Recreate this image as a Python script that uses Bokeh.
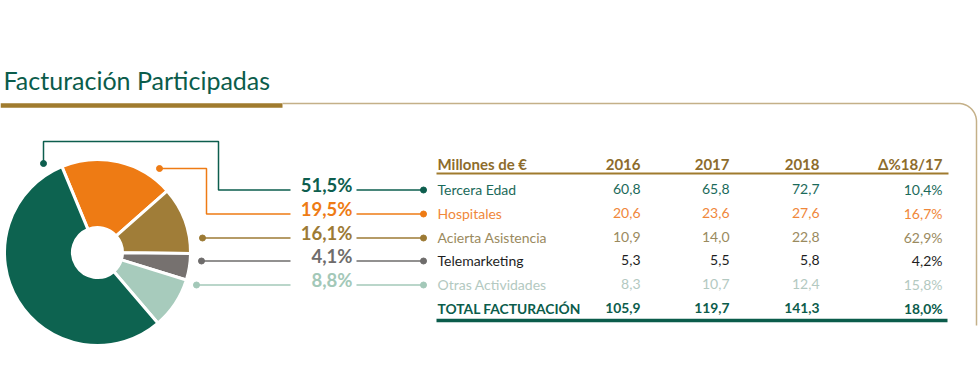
from bokeh.plotting import figure
from bokeh.models import ColumnDataSource, Range1d
from bokeh.embed import file_html
from bokeh.resources import INLINE
from bokeh.core.properties import value
import numpy as np

# ---------------- data ----------------
title = "Facturación Participadas"
header = ["Millones de €", "2016", "2017", "2018", "Δ%18/17"]
segments = ["Tercera Edad", "Hospitales", "Acierta Asistencia", "Telemarketing", "Otras Actividades"]
v2016 = [60.8, 20.6, 10.9, 5.3, 8.3]
v2017 = [65.8, 23.6, 14.0, 5.5, 10.7]
v2018 = [72.7, 27.6, 22.8, 5.8, 12.4]
delta = [10.4, 16.7, 62.9, 4.2, 15.8]
total_label = "TOTAL FACTURACIÓN"
totals = [105.9, 119.7, 141.3]
total_delta = 18.0
shares = [51.5, 19.5, 16.1, 4.1, 8.8]

# ---------------- styles ----------------
FONT = "Lato"
pie_colors = ["#0d6350", "#ee7b14", "#a07d38", "#76716f", "#a7cbbc"]
label_colors = ["#0d5e4e", "#ee7b14", "#9c7a34", "#6e6c6b", "#a3c8b8"]
row_colors = ["#1b6a5a", "#f0873a", "#9a8a5e", "#1e1e1e", "#b3c9c1"]
GREEN = "#0b5c4b"
GOLD = "#a07b2e"
GOLD_LIGHT = "#c4b088"
HEAD = "#8d6c2c"

W, H = 980, 388
p = figure(width=W, height=H, x_range=Range1d(0, W), y_range=Range1d(0, H),
           output_backend="svg", toolbar_location=None, min_border=0)
p.axis.visible = False
p.grid.visible = False
p.outline_line_color = None
p.background_fill_color = "white"
p.border_fill_color = "white"


def Y(ref):
    return H - ref


def TY(ref, size):
    # baseline correction for svg text rendering
    return Y(ref - 0.3 * size)


def fmt(v):
    return f"{v:.1f}".replace(".", ",")


# ---------------- title & frame ----------------
p.text(x=[3], y=[TY(87, 25)], text=[title], text_font=value(FONT), text_font_size="25px",
       text_color=GREEN, text_baseline="alphabetic", text_align="left")
p.line([0, 282], [Y(105), Y(105)], line_color=GOLD, line_width=4.5)
r = 18
th = np.linspace(np.pi / 2, 0, 20)
bx = [282] + list(976 - r + r * np.cos(th)) + [976]
by = [Y(103)] + list(Y(103 + r) + r * np.sin(th)) + [Y(325)]
p.line(bx, by, line_color=GOLD_LIGHT, line_width=1.5)

# ---------------- pie (drawn from 2017 values, as in the original) ----------------
cx, cy = 97, Y(252)
order = [1, 2, 3, 4, 0]
tot17 = sum(v2017)
a = np.deg2rad(112.5)
starts, ends, cols = [], [], []
for i in order:
    span = v2017[i] / tot17 * 2 * np.pi
    ends.append(a)
    starts.append(a - span)
    cols.append(pie_colors[i])
    a -= span
p.annular_wedge(x=cx, y=cy, inner_radius=25, outer_radius=93,
                start_angle=starts, end_angle=ends, fill_color=cols,
                line_color="white", line_width=3)

# ---------------- connectors & share labels ----------------
row_base = [193, 217, 241, 264, 288]
conn_y = [b - 3.5 for b in row_base]
lab_x_right = 352
lines_left = [
    ([43, 43, 218, 218, 290], [163, 141, 141, conn_y[0], conn_y[0]]),
    ([159, 206, 206, 290], [168, 168, conn_y[1], conn_y[1]]),
    ([202, 290], [conn_y[2], conn_y[2]]),
    ([201, 290], [conn_y[3], conn_y[3]]),
    ([196, 290], [conn_y[4], conn_y[4]]),
]
for k, (xs, ys) in enumerate(lines_left):
    p.line(xs, [Y(v) for v in ys], line_color=label_colors[k], line_width=1.5)
    p.scatter([xs[0]], [Y(ys[0])], size=6, color=label_colors[k])
    p.line([356, 423], [Y(conn_y[k]), Y(conn_y[k])], line_color=label_colors[k], line_width=1.5)
    p.scatter([423], [Y(conn_y[k])], size=6, color=label_colors[k])

PS = 18.5
p.text(x=[lab_x_right] * 5, y=[TY(c + 0.5, PS) for c in conn_y],
       text=[fmt(s) + "%" for s in shares], text_color=label_colors,
       text_font=value(FONT), text_font_size=f"{PS}px", text_font_style="bold",
       text_align="right", text_baseline="alphabetic")

# ---------------- table ----------------
col_x = [437, 640, 729, 819, 942]
head_y = 168
HS = 15
p.text(x=[col_x[0]], y=[TY(head_y, HS)], text=[header[0]], text_color=HEAD,
       text_font=value(FONT), text_font_size=f"{HS}px", text_font_style="bold",
       text_align="left", text_baseline="alphabetic")
p.text(x=col_x[1:], y=[TY(head_y, HS)] * 4, text=header[1:], text_color=HEAD,
       text_font=value(FONT), text_font_size=f"{HS}px", text_font_style="bold",
       text_align="right", text_baseline="alphabetic")
p.line([436, 948], [Y(173), Y(173)], line_color=GOLD, line_width=2)

RS = 14
rows = ColumnDataSource(dict(
    y=[TY(b, RS) for b in row_base], name=segments, c=row_colors,
    a=[fmt(v) for v in v2016], b=[fmt(v) for v in v2017], d=[fmt(v) for v in v2018],
    e=[fmt(v) + "%" for v in delta]))
p.text(x=col_x[0], y="y", text="name", text_color="c", source=rows,
       text_font=value(FONT), text_font_size=f"{RS}px", text_align="left", text_baseline="alphabetic")
for cx_, key in zip(col_x[1:], ["a", "b", "d", "e"]):
    p.text(x=cx_, y="y", text=key, text_color="c", source=rows,
           text_font=value(FONT), text_font_size=f"{RS}px", text_align="right", text_baseline="alphabetic")

tot_y = 312
TS = 13.8
p.text(x=[col_x[0]], y=[TY(tot_y, TS)], text=[total_label], text_color=GREEN,
       text_font=value(FONT), text_font_size=f"{TS}px", text_font_style="bold",
       text_align="left", text_baseline="alphabetic")
p.text(x=col_x[1:], y=[TY(tot_y, TS)] * 4, text=[fmt(v) for v in totals] + [fmt(total_delta) + "%"],
       text_color=GREEN, text_font=value(FONT), text_font_size=f"{TS}px", text_font_style="bold",
       text_align="right", text_baseline="alphabetic")
p.line([436, 947], [Y(320), Y(320)], line_color=GREEN, line_width=3.5)

open("out.html", "w").write(file_html(p, INLINE))
